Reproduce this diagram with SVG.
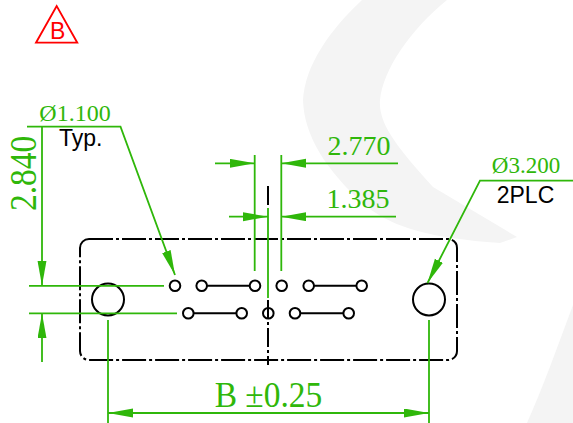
<svg xmlns="http://www.w3.org/2000/svg" width="573" height="423" viewBox="0 0 573 423">
<style>
.o{fill:none;stroke:#000;stroke-width:2}
.h{fill:#fff;stroke:#000;stroke-width:2}
.c{fill:#fff;stroke:#000;stroke-width:2;stroke-dasharray:24 3 3 3}
.g{fill:none;stroke:#2fb70a;stroke-width:1.8}
.t{font-family:"Liberation Serif",serif;fill:#2fb70a}
.k{font-family:"Liberation Sans",sans-serif;fill:#000;font-size:23px}
</style>
<defs>
<marker id="ar" markerUnits="userSpaceOnUse" markerWidth="26" markerHeight="10" refX="25" refY="4.500" orient="auto"><path d="M0 0L25 4.500L0 9Z" fill="#2fb70a"/></marker>
</defs>
<rect width="573" height="423" fill="#fff"/>
<g id="watermark" fill="#f4f4f4">
<path d="M362 0C330 30 305 65 303 100C304 135 325 170 367 207C395 228 430 238 500 243L517 237L433 187C400 150 378 125 380 100C383 70 410 30 447 0Z"/>
<path d="M573 305C558 345 542 390 527 423H573Z"/>
</g>
<g id="stamp">
<path d="M56.700 6L36 42.700L77.300 42.700Z" fill="none" stroke="#f00" stroke-width="1.800"/>
<text x="57.700" y="39.300" text-anchor="middle" font-family="Liberation Sans,sans-serif" font-size="23" fill="#f00">B</text>
</g>
<g id="plate">
<rect x="80" y="239" width="377" height="121" rx="9" class="c"/>
<path d="M268 186V206M268 300V365" class="c" style="fill:none;stroke-dasharray:19 3 3 3"/>
</g>
<g id="holes">
<circle cx="108" cy="299.500" r="16" class="o"/>
<circle cx="429" cy="299.500" r="16" class="o"/>
<path d="M201.700 285.700H255M308.700 285.700H361.700M188.300 313.300H241.700M295 313.300H348.700" class="o"/>
<circle cx="175" cy="285.700" r="5.300" class="h"/>
<circle cx="201.700" cy="285.700" r="5.300" class="h"/>
<circle cx="255" cy="285.700" r="5.300" class="h"/>
<circle cx="281.700" cy="285.700" r="5.300" class="h"/>
<circle cx="308.700" cy="285.700" r="5.300" class="h"/>
<circle cx="361.700" cy="285.700" r="5.300" class="h"/>
<circle cx="188.300" cy="313.300" r="5.300" class="h"/>
<circle cx="241.700" cy="313.300" r="5.300" class="h"/>
<circle cx="268.300" cy="313.300" r="5.300" class="o"/>
<circle cx="295" cy="313.300" r="5.300" class="h"/>
<circle cx="348.700" cy="313.300" r="5.300" class="h"/>
</g>
<g id="connectors">
<path class="g" d="M27 126.700H120.500L175 275" marker-end="url(#ar)"/>
<path class="g" d="M42 126.700V285.700" marker-end="url(#ar)"/>
<path class="g" d="M42 362V313.300" marker-end="url(#ar)"/>
<path class="g" d="M29 285.800H164M29 313.300H177"/>
<path class="g" d="M254.700 155V271M281.300 155V271M268 208V298"/>
<path class="g" d="M215 163.300H254.700" marker-end="url(#ar)"/>
<path class="g" d="M398 163.300H281.300" marker-end="url(#ar)"/>
<path class="g" d="M229 216.700H268" marker-end="url(#ar)"/>
<path class="g" d="M396 216.700H281.300" marker-end="url(#ar)"/>
<path class="g" d="M108 320V423M429 320V423"/>
<path class="g" d="M429 413H108" marker-end="url(#ar)"/>
<path class="g" d="M108 413H429" marker-end="url(#ar)"/>
<path class="g" d="M573 180.700H480L427.500 283" marker-end="url(#ar)"/>
</g>
<g id="labels">
<text class="t" x="75" y="121" text-anchor="middle" font-size="24">Ø1.100</text>
<text class="k" x="59" y="146">Typ.</text>
<text class="t" transform="translate(36 211) rotate(-90) scale(1 1.100)" font-size="33.500">2.840</text>
<text class="t" x="359" y="155" text-anchor="middle" font-size="28">2.770</text>
<text class="t" x="358" y="208" text-anchor="middle" font-size="28">1.385</text>
<text class="t" transform="translate(268.500 406.500) scale(1 1.070)" text-anchor="middle" font-size="33.500">B ±0.25</text>
<text class="t" x="526" y="172.700" text-anchor="middle" font-size="23">Ø3.200</text>
<text class="k" x="525.500" y="203" text-anchor="middle">2PLC</text>
</g>
</svg>
